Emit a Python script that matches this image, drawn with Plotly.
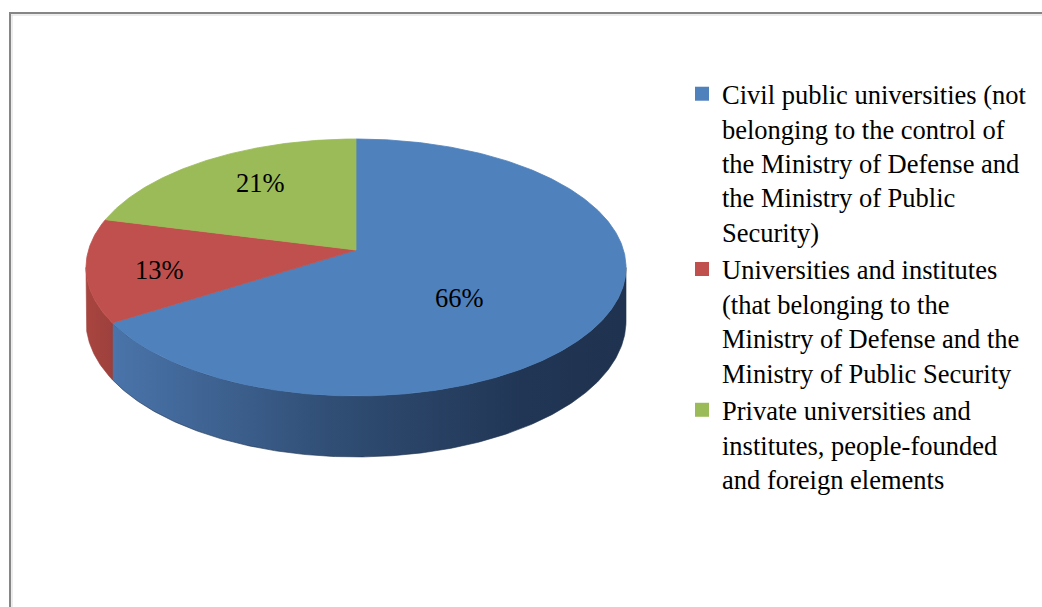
import numpy as np
import plotly.graph_objects as go

# ---- data -----------------------------------------------------------------
categories = [
    "Civil public universities (not<br>belonging to the control of<br>the Ministry of Defense and<br>the Ministry of Public<br>Security)",
    "Universities and institutes<br>(that belonging to the<br>Ministry of Defense and the<br>Ministry of Public Security",
    "Private universities and<br>institutes, people-founded<br>and foreign elements",
]
shares = [66, 13, 21]
percent_labels = ["66%", "13%", "21%"]

# ---- style ----------------------------------------------------------------
top_colors = ["#4F81BD", "#C0504D", "#9BBB59"]
side_colorscales = [
    [[0, "#4a74aa"], [0.45, "#2f4c72"], [0.8, "#213655"], [1, "#1f324f"]],
    [[0, "#a9453f"], [1, "#9d403d"]],
    [[0, "#85a04c"], [1, "#7a9346"]],
]
# label placement: (radial fraction along mid-angle, extra vertical shift px)
label_place = [(0.43, -21), (0.733, -5), (0.62, 9)]

FONT = "Liberation Serif, Times New Roman, serif"
FONT_SIZE = 26.5
W, H = 1042, 607

# pie geometry (pixel anchors of the canvas), perspective tilt and thickness
CX, CY = 356.0, 250.0      # pie centre in px
RX, RY = 267.5, 126.1      # horizontal / vertical radius in px
K = 0.136                  # perspective foreshortening
DEPTH = 0.418              # thickness in vertical-radius units


def project(theta_deg, r=1.0, h=0.0):
    """Clockwise-from-top angle on the disc -> (x, y) in canvas units."""
    t = np.radians(theta_deg)
    u, v = r * np.sin(t), r * np.cos(t)
    d = 1 + K * v
    return u / d, (v - DEPTH * h) / d


def arc(a0, a1, h=0.0, n=None):
    n = n or max(8, int(abs(a1 - a0) * 2))
    th = np.linspace(a0, a1, n)
    return project(th, 1.0, h)


total = float(sum(shares))
bounds = np.concatenate([[0], np.cumsum(shares)]) * 360.0 / total

# visible part of the rim lies between the left and right silhouette points
theta_r = np.degrees(np.arccos(-K))
theta_l = 360.0 - theta_r

fig = go.Figure()

# rim (side) faces first
for i in range(len(shares)):
    a0, a1 = max(bounds[i], theta_r), min(bounds[i + 1], theta_l)
    if a1 <= a0:
        continue
    tx, ty = arc(a0, a1, 0.0)
    bx, by = arc(a1, a0, 1.0)
    xs = np.concatenate([tx, bx, tx[:1]])
    ys = np.concatenate([ty, by, ty[:1]])
    fig.add_trace(go.Scatter(
        x=xs, y=ys, mode="lines", fill="toself",
        line=dict(width=0.6, color=side_colorscales[i][-1][1]),
        fillcolor=side_colorscales[i][0][1],
        fillgradient=dict(type="horizontal", colorscale=side_colorscales[i]),
        hoverinfo="skip", showlegend=False,
    ))

# top faces
for i in range(len(shares)):
    ax, ay = arc(bounds[i], bounds[i + 1], 0.0)
    cx0, cy0 = project(0.0, 0.0)
    xs = np.concatenate([[cx0], ax, [cx0]])
    ys = np.concatenate([[cy0], ay, [cy0]])
    fig.add_trace(go.Scatter(
        x=xs, y=ys, mode="lines", fill="toself",
        line=dict(width=0.8, color=top_colors[i]),
        fillcolor=top_colors[i],
        hoverinfo="skip", showlegend=False,
    ))

# percentage labels
for i, txt in enumerate(percent_labels):
    mid = (bounds[i] + bounds[i + 1]) / 2
    f, dy = label_place[i]
    lx, ly = project(mid, f)
    fig.add_annotation(x=lx, y=ly, text=txt, showarrow=False, yshift=dy,
                       font=dict(family=FONT, size=FONT_SIZE, color="black"))

# legend entries
for name, col in zip(categories, top_colors):
    fig.add_trace(go.Scatter(
        x=[None], y=[None], mode="markers", name=name,
        marker=dict(symbol="square", size=14, color=col),
    ))

# chart frame (top and left edges)
frame = "#868686"
fig.add_shape(type="line", xref="paper", yref="paper",
              x0=9 / W, x1=1, y0=1 - 13 / H, y1=1 - 13 / H,
              line=dict(color=frame, width=2))
fig.add_shape(type="line", xref="paper", yref="paper",
              x0=10 / W, x1=10 / W, y0=0, y1=1 - 13 / H,
              line=dict(color=frame, width=2))
fig.add_shape(type="line", xref="paper", yref="paper",
              x0=11 / W, x1=1, y0=1 - 15 / H, y1=1 - 15 / H,
              line=dict(color="#dadada", width=1))
fig.add_shape(type="line", xref="paper", yref="paper",
              x0=12 / W, x1=12 / W, y0=0, y1=1 - 15 / H,
              line=dict(color="#dadada", width=1))

fig.update_layout(
    width=W, height=H, autosize=False,
    margin=dict(l=0, r=0, t=0, b=0),
    paper_bgcolor="white", plot_bgcolor="white",
    xaxis=dict(range=[-CX / RX, (W - CX) / RX], visible=False, fixedrange=True),
    yaxis=dict(range=[-(H - CY) / RY, CY / RY], visible=False, fixedrange=True),
    showlegend=True,
    legend=dict(
        x=(722 - 40) / W, y=1 - 70 / H, xanchor="left", yanchor="top",
        font=dict(family=FONT, size=FONT_SIZE, color="black"),
        valign="top", bgcolor="rgba(0,0,0,0)", tracegroupgap=0,
    ),
)

fig.write_html("out.html", config={"displayModeBar": False})
